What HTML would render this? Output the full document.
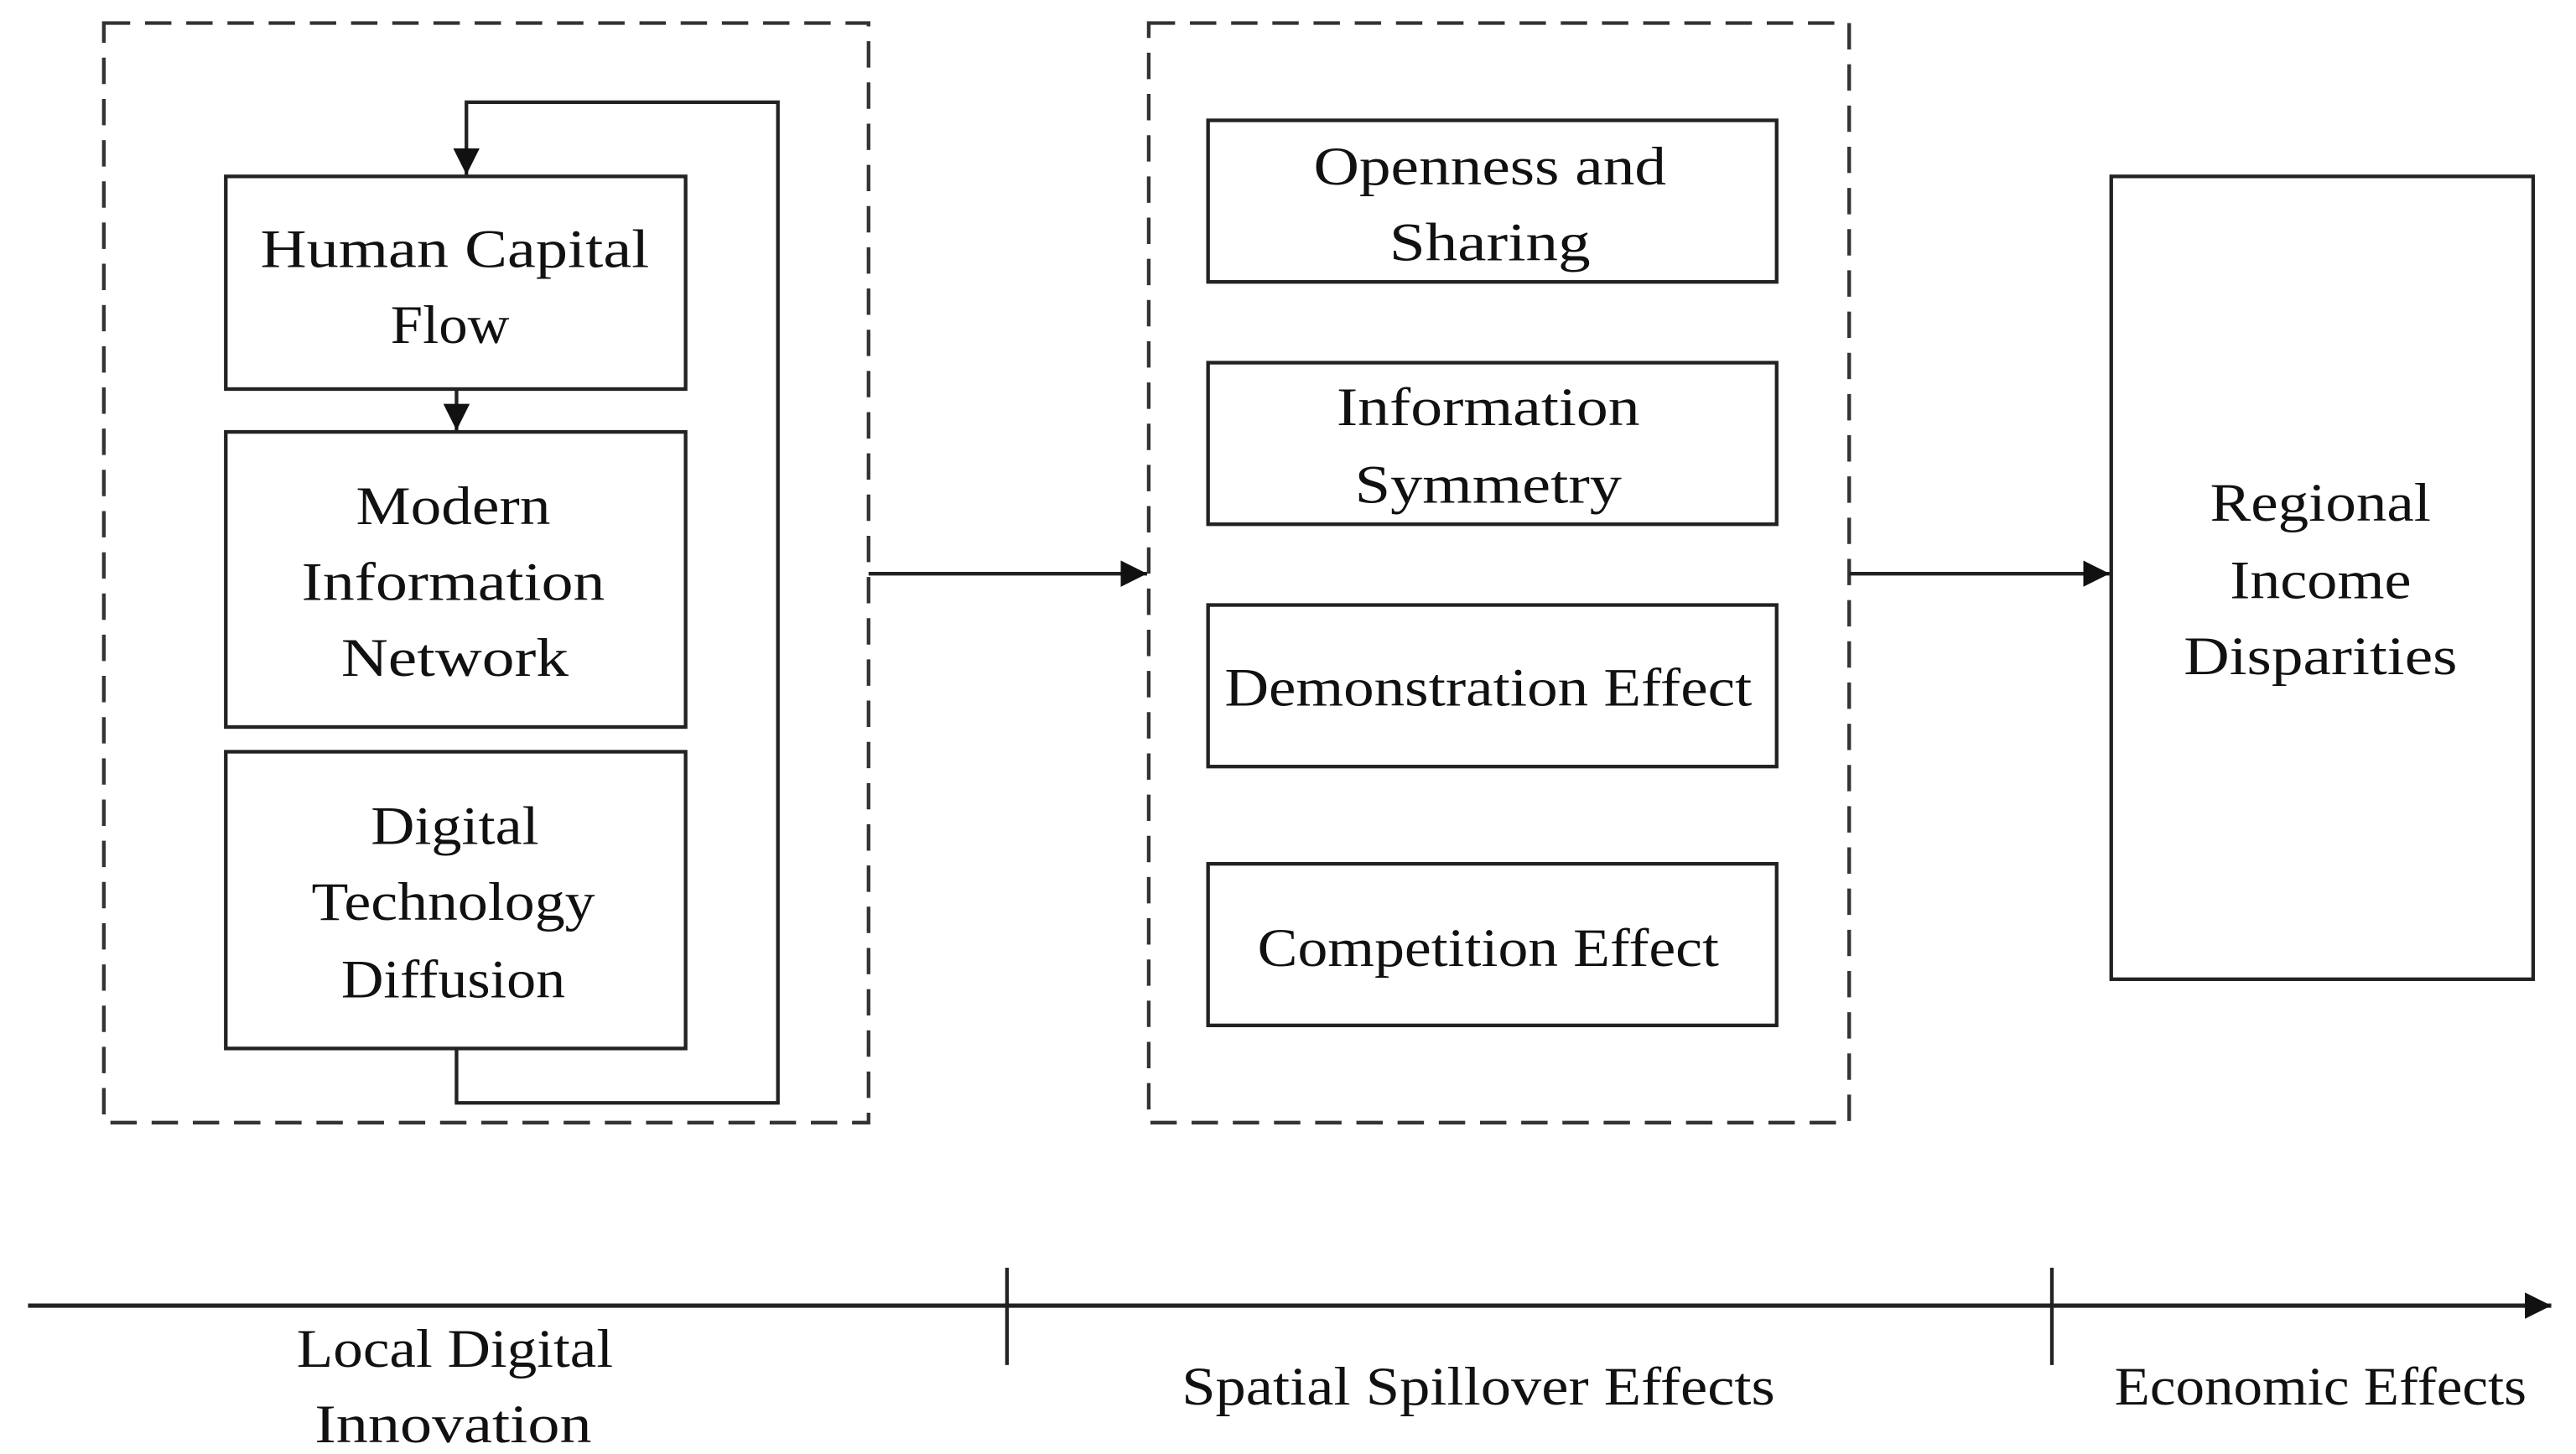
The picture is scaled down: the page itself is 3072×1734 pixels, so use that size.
<!DOCTYPE html>
<html><head><meta charset="utf-8"><style>
html,body{margin:0;padding:0;background:#fff;}
svg{display:block;}
text{font-family:"Liberation Serif",serif;font-size:33px;fill:#111;}
</style></head><body>
<svg width="3072" height="1734" viewBox="0 0 1563 882" preserveAspectRatio="none" xmlns="http://www.w3.org/2000/svg">
<defs>
<marker id="a" viewBox="0 0 10 10" refX="10" refY="5" markerWidth="16" markerHeight="16" markerUnits="userSpaceOnUse" orient="auto"><path d="M0,0L10,5L0,10z" fill="#111"/></marker>
</defs>
<g fill="none" stroke="#333" stroke-width="2.2" stroke-dasharray="16,9">
<rect x="63" y="14" width="464" height="667"/>
<rect x="697" y="14" width="425" height="667"/>
</g>
<g fill="none" stroke="#222" stroke-width="2.2">
<rect x="137" y="107" width="279" height="129"/>
<rect x="137" y="262" width="279" height="179"/>
<rect x="137" y="456" width="279" height="180"/>
<rect x="733" y="73" width="345" height="98"/>
<rect x="733" y="220" width="345" height="98"/>
<rect x="733" y="367" width="345" height="98"/>
<rect x="733" y="524" width="345" height="98"/>
<rect x="1281" y="107" width="256" height="487"/>
<polyline points="277,636 277,669 472,669 472,62 283,62 283,106" marker-end="url(#a)"/>
<line x1="277" y1="236" x2="277" y2="261" marker-end="url(#a)"/>
<line x1="527" y1="348" x2="696" y2="348" marker-end="url(#a)"/>
<line x1="1122" y1="348" x2="1280" y2="348" marker-end="url(#a)"/>
<line x1="17" y1="792" x2="1548" y2="792" marker-end="url(#a)" stroke-width="2.6"/>
<line x1="611" y1="769" x2="611" y2="828"/>
<line x1="1245" y1="769" x2="1245" y2="828"/>
</g>
<g text-anchor="middle" lengthAdjust="spacingAndGlyphs">
<text x="276" y="162" textLength="236" lengthAdjust="spacingAndGlyphs">Human Capital</text>
<text x="273" y="208" textLength="72" lengthAdjust="spacingAndGlyphs">Flow</text>
<text x="275" y="318" textLength="118" lengthAdjust="spacingAndGlyphs">Modern</text>
<text x="275" y="364" textLength="184" lengthAdjust="spacingAndGlyphs">Information</text>
<text x="276" y="410" textLength="138" lengthAdjust="spacingAndGlyphs">Network</text>
<text x="276" y="512" textLength="102" lengthAdjust="spacingAndGlyphs">Digital</text>
<text x="275" y="558" textLength="172" lengthAdjust="spacingAndGlyphs">Technology</text>
<text x="275" y="605" textLength="136" lengthAdjust="spacingAndGlyphs">Diffusion</text>
<text x="904" y="112" textLength="214" lengthAdjust="spacingAndGlyphs">Openness and</text>
<text x="904" y="158" textLength="122" lengthAdjust="spacingAndGlyphs">Sharing</text>
<text x="903" y="258" textLength="184" lengthAdjust="spacingAndGlyphs">Information</text>
<text x="903" y="305" textLength="162" lengthAdjust="spacingAndGlyphs">Symmetry</text>
<text x="903" y="428" textLength="320" lengthAdjust="spacingAndGlyphs">Demonstration Effect</text>
<text x="903" y="586" textLength="280" lengthAdjust="spacingAndGlyphs">Competition Effect</text>
<text x="1408" y="316" textLength="134" lengthAdjust="spacingAndGlyphs">Regional</text>
<text x="1408" y="363" textLength="110" lengthAdjust="spacingAndGlyphs">Income</text>
<text x="1408" y="409" textLength="166" lengthAdjust="spacingAndGlyphs">Disparities</text>
<text x="276" y="829" textLength="192" lengthAdjust="spacingAndGlyphs">Local Digital</text>
<text x="275" y="875" textLength="168" lengthAdjust="spacingAndGlyphs">Innovation</text>
<text x="897" y="852" textLength="360" lengthAdjust="spacingAndGlyphs">Spatial Spillover Effects</text>
<text x="1408" y="852" textLength="250" lengthAdjust="spacingAndGlyphs">Economic Effects</text>
</g>
</svg>
</body></html>
